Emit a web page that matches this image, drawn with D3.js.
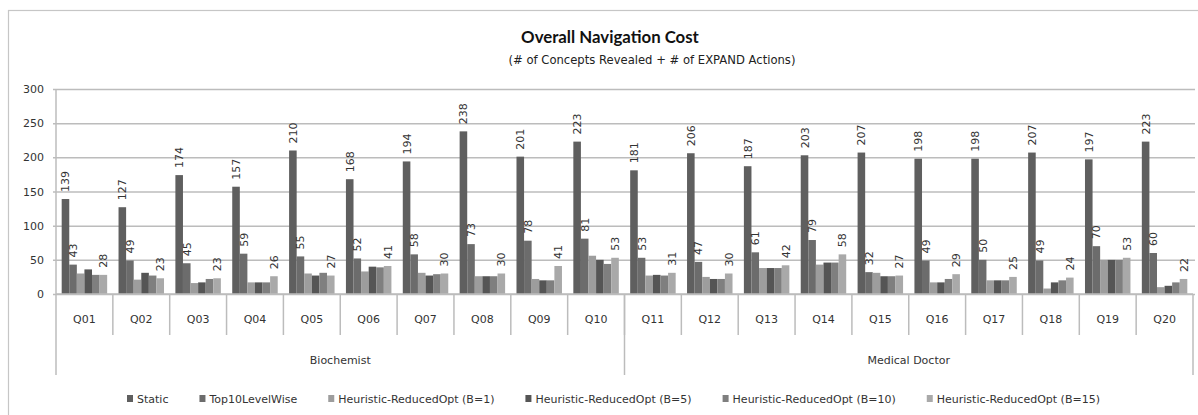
<!DOCTYPE html>
<html>
<head>
<meta charset="utf-8">
<script src="https://cdn.jsdelivr.net/npm/d3@7"></script>
<style>
  body { margin: 0; background: #fff; }
  svg { display: block; }
</style>
</head>
<body>
<div id="chart"></div>
<script>
// Chart data
var categories = ["Q01","Q02","Q03","Q04","Q05","Q06","Q07","Q08","Q09","Q10",
                  "Q11","Q12","Q13","Q14","Q15","Q16","Q17","Q18","Q19","Q20"];
var groups = ["Biochemist", "Medical Doctor"];
var groupSize = 10;

var seriesNames = ["Static", "Top10LevelWise", "Heuristic-ReducedOpt (B=1)",
                   "Heuristic-ReducedOpt (B=5)", "Heuristic-ReducedOpt (B=10)",
                   "Heuristic-ReducedOpt (B=15)"];

var staticVals = [139,127,174,157,210,168,194,238,201,223,181,206,187,203,207,198,198,207,197,223];
var top10Vals  = [43,49,45,59,55,52,58,73,78,81,53,47,61,79,32,49,50,49,70,60];
var b1Vals     = [30,21,16,17,30,33,31,26,22,56,27,25,38,43,31,17,20,8,50,10];
var b5Vals     = [36,31,17,17,27,40,27,26,20,50,28,22,38,46,26,17,20,17,50,12];
var b10Vals    = [28,27,22,17,31,39,29,26,20,44,27,22,38,46,26,22,20,20,50,17];
var b15Vals    = [28,23,23,26,27,41,30,30,41,53,31,30,42,58,27,29,25,24,53,22];

var yTicks = [0, 50, 100, 150, 200, 250, 300];

var seriesValues = [staticVals, top10Vals, b1Vals, b5Vals, b10Vals, b15Vals];
var labelled = [true, true, false, false, false, true];
var colors = ["#5f5f5f", "#6c6c6c", "#9d9d9d", "#555555", "#7f7f7f", "#a9a9a9"];

// Set up the SVG area
var svgWidth = 1198;
var svgHeight = 415;

var svg = d3.select("#chart")
  .append("svg")
  .attr("width", svgWidth)
  .attr("height", svgHeight);

// chart area border (right and bottom run off the picture)
svg.append("rect")
  .attr("x", 8.5).attr("y", 10.5)
  .attr("width", 1220).attr("height", 430)
  .attr("fill", "none")
  .attr("stroke", "#c6c6c6")
  .attr("stroke-width", 1.2);

var plotLeft = 56, plotRight = 1193, plotTop = 89, plotBottom = 294;

// Scales
var x0 = d3.scaleBand()
  .domain(categories)
  .range([plotLeft, plotRight])
  .padding(0);

var x1 = d3.scaleBand()
  .domain(d3.range(seriesNames.length))
  .range([0, x0.bandwidth()])
  .paddingInner(0)
  .paddingOuter(0.75);

var y = d3.scaleLinear()
  .domain([0, 300])
  .range([plotBottom, plotTop]);

// Gridlines + y axis labels
var leftAxis = d3.axisLeft(y)
  .tickValues(yTicks)
  .tickSizeInner(-(plotRight - plotLeft + 5))
  .tickSizeOuter(0)
  .tickPadding(12);

var yAxisG = svg.append("g")
  .attr("transform", `translate(${plotLeft - 3}, 0)`)
  .call(leftAxis);
yAxisG.select(".domain").remove();
yAxisG.selectAll(".tick line")
  .attr("stroke", "#bcbcbc")
  .attr("stroke-width", 1.5);
yAxisG.selectAll(".tick text")
  .attr("x", -9)
  .attr("fill", "#333")
  .style("font-family", "DejaVu Sans")
  .style("font-size", "11px");

// y axis line
svg.append("line")
  .attr("x1", plotLeft).attr("x2", plotLeft)
  .attr("y1", plotTop).attr("y2", plotBottom)
  .attr("stroke", "#bcbcbc").attr("stroke-width", 1.5);

// Bars
var rows = categories.map(function(c, i) {
  return { cat: c, vals: seriesValues.map(function(s) { return s[i]; }) };
});

var catG = svg.append("g").selectAll("g")
  .data(rows)
  .join("g")
  .attr("transform", d => `translate(${x0(d.cat)}, 0)`);

catG.selectAll("rect")
  .data(d => d.vals.map((v, k) => ({ k: k, v: v })))
  .join("rect")
  .attr("x", d => x1(d.k))
  .attr("y", d => y(d.v))
  .attr("width", x1.bandwidth())
  .attr("height", d => y(0) - y(d.v))
  .attr("fill", d => colors[d.k]);

// Data labels (rotated)
catG.selectAll("text.lbl")
  .data(d => d.vals.map((v, k) => ({ k: k, v: v })).filter(d => labelled[d.k]))
  .join("text")
  .attr("class", "lbl")
  .attr("transform", d => `translate(${x1(d.k) + x1.bandwidth() / 2 + 4}, ${y(d.v) - 7}) rotate(-90)`)
  .attr("text-anchor", "start")
  .attr("fill", "#333")
  .style("font-family", "DejaVu Sans")
  .style("font-size", "11px")
  .text(d => d.v);

// x axis line (zero)
svg.append("line")
  .attr("x1", plotLeft).attr("x2", plotRight)
  .attr("y1", plotBottom).attr("y2", plotBottom)
  .attr("stroke", "#bcbcbc").attr("stroke-width", 1.5);

// category separators and labels
var axisG = svg.append("g");
axisG.selectAll("line.sep")
  .data(categories.slice(1))
  .join("line")
  .attr("class", "sep")
  .attr("x1", d => x0(d)).attr("x2", d => x0(d))
  .attr("y1", plotBottom).attr("y2", 335)
  .attr("stroke", "#bcbcbc").attr("stroke-width", 1.5);

axisG.selectAll("text.cat")
  .data(categories)
  .join("text")
  .attr("class", "cat")
  .attr("x", d => x0(d) + x0.bandwidth() / 2)
  .attr("y", 323)
  .attr("text-anchor", "middle")
  .attr("fill", "#333")
  .style("font-family", "DejaVu Sans")
  .style("font-size", "11px")
  .text(d => d);

// group separators and labels
var groupEdges = d3.range(groups.length + 1).map(function(g) {
  return g < groups.length ? x0(categories[g * groupSize]) : plotRight;
});
axisG.selectAll("line.gsep")
  .data(groupEdges)
  .join("line")
  .attr("class", "gsep")
  .attr("x1", d => d).attr("x2", d => d)
  .attr("y1", plotBottom).attr("y2", 375)
  .attr("stroke", "#bcbcbc").attr("stroke-width", 1.5);

axisG.selectAll("text.grp")
  .data(groups)
  .join("text")
  .attr("class", "grp")
  .attr("x", (d, i) => (groupEdges[i] + groupEdges[i + 1]) / 2)
  .attr("y", 364)
  .attr("text-anchor", "middle")
  .attr("fill", "#333")
  .style("font-family", "DejaVu Sans")
  .style("font-size", "11px")
  .text(d => d);

// Title
svg.append("text")
  .attr("x", 610).attr("y", 43)
  .attr("text-anchor", "middle")
  .attr("fill", "#111")
  .style("font-family", "Lato")
  .style("font-weight", "bold")
  .style("font-size", "16.8px")
  .text("Overall Navigation Cost");

svg.append("text")
  .attr("x", 652).attr("y", 64)
  .attr("text-anchor", "middle")
  .attr("fill", "#222")
  .style("font-family", "DejaVu Sans")
  .style("font-size", "11.6px")
  .text("(# of Concepts Revealed + # of EXPAND Actions)");

// Legend
var legend = svg.append("g");
var lx = 127;
seriesNames.forEach(function(name, k) {
  var item = legend.append("g").attr("transform", `translate(${lx}, 399)`);
  item.append("rect")
    .attr("x", 0).attr("y", -4)
    .attr("width", 6).attr("height", 7)
    .attr("fill", colors[k]);
  var t = item.append("text")
    .attr("x", 10).attr("y", 4)
    .attr("fill", "#333")
    .style("font-family", "DejaVu Sans")
    .style("font-size", "11px")
    .text(name);
  lx += 10 + t.node().getComputedTextLength() + 31;
});
</script>
</body>
</html>
